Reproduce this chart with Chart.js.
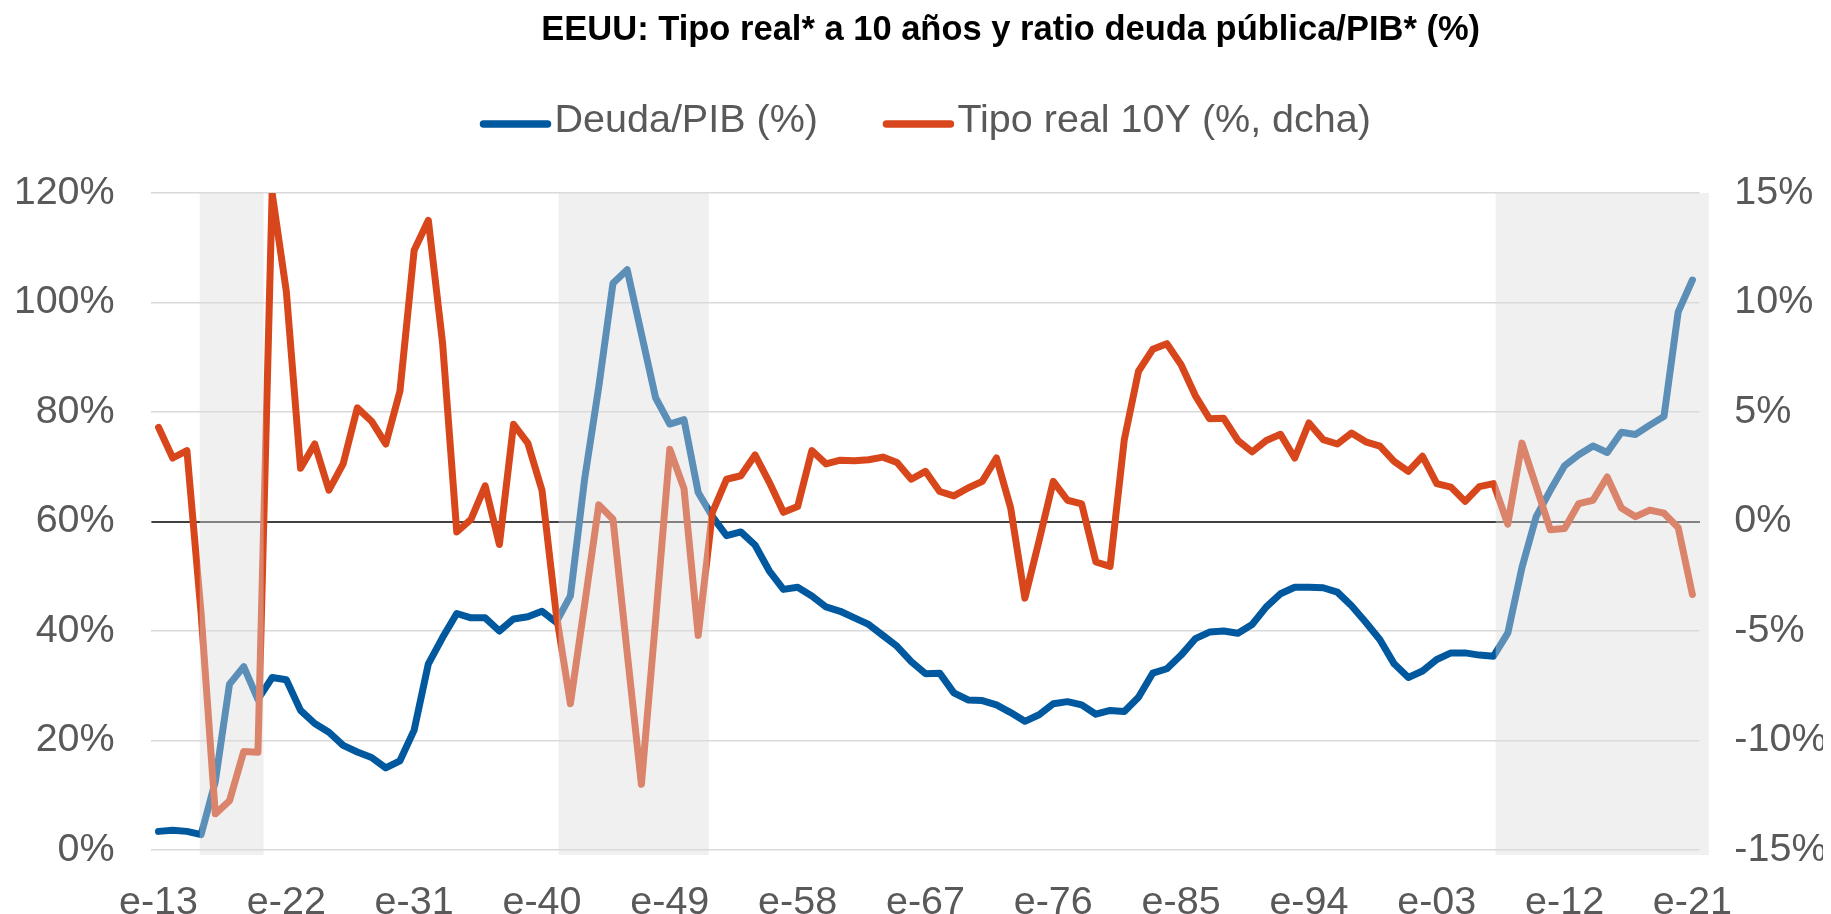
<!DOCTYPE html>
<html>
<head>
<meta charset="utf-8">
<title>EEUU: Tipo real y deuda pública/PIB</title>
<script src="https://cdn.jsdelivr.net/npm/chart.js@4"></script>
<style>
  body { margin: 0; background: #fff; }
  #wrap { width: 1831px; height: 914px; }
</style>
</head>
<body>
<div id="wrap"><canvas id="chart"></canvas></div>
<script>
// años (enero de cada año)
const years = [
  1913, 1914, 1915, 1916, 1917, 1918, 1919, 1920, 1921, 1922,
  1923, 1924, 1925, 1926, 1927, 1928, 1929, 1930, 1931, 1932,
  1933, 1934, 1935, 1936, 1937, 1938, 1939, 1940, 1941, 1942,
  1943, 1944, 1945, 1946, 1947, 1948, 1949, 1950, 1951, 1952,
  1953, 1954, 1955, 1956, 1957, 1958, 1959, 1960, 1961, 1962,
  1963, 1964, 1965, 1966, 1967, 1968, 1969, 1970, 1971, 1972,
  1973, 1974, 1975, 1976, 1977, 1978, 1979, 1980, 1981, 1982,
  1983, 1984, 1985, 1986, 1987, 1988, 1989, 1990, 1991, 1992,
  1993, 1994, 1995, 1996, 1997, 1998, 1999, 2000, 2001, 2002,
  2003, 2004, 2005, 2006, 2007, 2008, 2009, 2010, 2011, 2012,
  2013, 2014, 2015, 2016, 2017, 2018, 2019, 2020, 2021
];

// Deuda/PIB (%), eje izquierdo
const deudaPib = [
  3.4, 3.6, 3.4, 2.8, 12.5, 30.3, 33.5, 27.5, 31.5, 31.1,
  25.5, 23.1, 21.5, 19.1, 17.9, 16.9, 15.0, 16.3, 21.9, 34.0,
  38.8, 43.2, 42.4, 42.4, 40.0, 42.2, 42.6, 43.6, 41.6, 46.4,
  67.7, 84.6, 103.5, 106.0, 94.3, 82.6, 77.8, 78.6, 65.3, 60.9,
  57.4, 58.1, 55.7, 51.0, 47.6, 48.0, 46.4, 44.4, 43.6, 42.4,
  41.2, 39.2, 37.2, 34.4, 32.2, 32.3, 28.7, 27.4, 27.3, 26.5,
  25.1, 23.5, 24.7, 26.7, 27.1, 26.5, 24.8, 25.5, 25.3, 27.9,
  32.3, 33.1, 35.6, 38.6, 39.8, 40.0, 39.6, 41.2, 44.4, 46.8,
  48.0, 48.0, 47.9, 47.1, 44.6, 41.6, 38.4, 34.0, 31.5, 32.7,
  34.8, 36.0, 36.0, 35.6, 35.4, 39.6, 51.6, 60.9, 65.7, 70.2,
  72.2, 73.8, 72.6, 76.3, 75.9, 77.6, 79.2, 98.3, 104.1
];

// Tipo real 10Y (%), eje derecho
const tipoReal = [
  4.3, 2.9, 3.24, -4.2, -13.35, -12.75, -10.5, -10.54, 15.0, 10.5,
  2.43, 3.54, 1.43, 2.63, 5.19, 4.58, 3.54, 5.95, 12.39, 13.75,
  8.16, -0.48, 0.1, 1.63, -1.05, 4.44, 3.58, 1.43, -4.2, -8.32,
  -3.8, 0.76, 0.1, -6.0, -12.0, -4.5, 3.3, 1.5, -5.2, 0.42,
  1.93, 2.09, 3.04, 1.8, 0.42, 0.68, 3.24, 2.63, 2.8, 2.77,
  2.82, 2.94, 2.69, 1.93, 2.29, 1.37, 1.17, 1.53, 1.83, 2.9,
  0.62, -3.5, -0.88, 1.83, 0.97, 0.8, -1.85, -2.05, 3.74, 6.86,
  7.86, 8.12, 7.16, 5.75, 4.69, 4.71, 3.7, 3.18, 3.7, 3.98,
  2.9, 4.5, 3.74, 3.54, 4.04, 3.64, 3.44, 2.75, 2.29, 2.98,
  1.73, 1.57, 0.92, 1.59, 1.73, -0.12, 3.58, 1.6, -0.38, -0.32,
  0.82, 0.97, 2.03, 0.62, 0.22, 0.52, 0.38, -0.28, -3.34
];

// periodos sombreados (en años, fracciones incluidas)
const shadeFrom = [1915.9, 1941.17, 2007.15];
const shadeTo = [1920.4, 1951.75, 2022.15];

const titleText = "EEUU: Tipo real* a 10 años y ratio deuda pública/PIB* (%)";
const fontFamily = "'Liberation Sans', Arial, sans-serif";

Chart.defaults.font.family = fontFamily;

// sombreado encima de las líneas (las aclara como en el original)
const shadePlugin = {
    id: "shade",
    afterDatasetsDraw(chart) {
        const { ctx, chartArea, scales } = chart;
        ctx.save();
        ctx.fillStyle = "rgba(219,219,219,0.42)";
        shadeFrom.forEach((from, i) => {
            let x0 = scales.x.getPixelForValue(from - years[0]);
            let x1 = scales.x.getPixelForValue(shadeTo[i] - years[0]);
            ctx.fillRect(x0, chartArea.top, x1 - x0, chartArea.bottom - chartArea.top + 5);
        });
        ctx.restore();
    }
};

// título y leyenda dibujados a mano
const headerPlugin = {
    id: "header",
    afterDraw(chart) {
        const { ctx, chartArea } = chart;
        ctx.save();

        ctx.fillStyle = "#000";
        ctx.font = "bold 34.5px " + fontFamily;
        ctx.textAlign = "center";
        ctx.textBaseline = "alphabetic";
        ctx.fillText(titleText, chart.width * 0.552, 39.5);

        ctx.font = "39.5px " + fontFamily;
        ctx.textAlign = "left";
        ctx.textBaseline = "middle";
        let sets = chart.data.datasets;
        let widths = sets.map(ds => 3.5 + 71 + ctx.measureText(ds.label).width);
        let total = widths.reduce((a, b) => a + b, 0) + 65 * (sets.length - 1);
        let x = (chartArea.left + chartArea.right) / 2 - total / 2 + 3.5;
        sets.forEach((ds, i) => {
            ctx.strokeStyle = ds.borderColor;
            ctx.lineWidth = 7.5;
            ctx.lineCap = "round";
            ctx.beginPath();
            ctx.moveTo(x, 124);
            ctx.lineTo(x + 64, 124);
            ctx.stroke();
            ctx.fillStyle = "#595959";
            ctx.fillText(ds.label, x + 71, 121);
            x += widths[i] + 65;
        });
        ctx.restore();
    }
};

new Chart(document.getElementById("chart"), {
    type: "line",
    data: {
        labels: years.map(y => "e-" + String(y).slice(2)),
        datasets: [
            {
                label: "Deuda/PIB (%)",
                data: deudaPib,
                yAxisID: "y",
                borderColor: "#00589f",
                borderWidth: 7,
                pointRadius: 0,
                borderJoinStyle: "round",
                borderCapStyle: "round",
                order: 1
            },
            {
                label: "Tipo real 10Y (%, dcha)",
                data: tipoReal,
                yAxisID: "y1",
                borderColor: "#d8461b",
                borderWidth: 7,
                pointRadius: 0,
                borderJoinStyle: "round",
                borderCapStyle: "round",
                clip: 0,
                order: 0
            }
        ]
    },
    options: {
        responsive: true,
        maintainAspectRatio: false,
        animation: false,
        layout: { padding: { top: 193, left: 17, right: 8, bottom: 0 } },
        plugins: {
            legend: { display: false },
            title: { display: false },
            tooltip: { enabled: false }
        },
        scales: {
            x: {
                type: "category",
                offset: true,
                grid: { display: false },
                border: { display: false },
                afterBuildTicks: (scale) => {
                    scale.ticks = scale.ticks.filter(t => (years[t.value] - years[0]) % 9 === 0);
                },
                afterFit: (scale) => { scale.height = 64; },
                ticks: {
                    autoSkip: false,
                    maxRotation: 0,
                    color: "#595959",
                    padding: 25,
                    font: { size: 39.5, lineHeight: 1 }
                }
            },
            y: {
                position: "left",
                min: 0,
                max: 120,
                border: { display: false },
                afterFit: (scale) => { scale.width = 134.4; },
                grid: {
                    drawTicks: false,
                    lineWidth: 1.5,
                    color: (c) => c.tick.value === 60 ? "transparent" : "#d9d9d9"
                },
                ticks: {
                    stepSize: 20,
                    color: "#595959",
                    padding: 36.7,
                    font: { size: 39.5 },
                    callback: (v) => v + "%"
                }
            },
            y1: {
                position: "right",
                min: -15,
                max: 15,
                border: { display: false },
                afterFit: (scale) => { scale.width = 123.5; },
                grid: {
                    drawTicks: false,
                    lineWidth: 2,
                    color: (c) => c.tick.value === 0 ? "#404040" : "transparent"
                },
                ticks: {
                    stepSize: 5,
                    color: "#595959",
                    padding: 34.8,
                    font: { size: 39.5 },
                    callback: (v) => v + "%"
                }
            }
        }
    },
    plugins: [shadePlugin, headerPlugin]
});
</script>
</body>
</html>
